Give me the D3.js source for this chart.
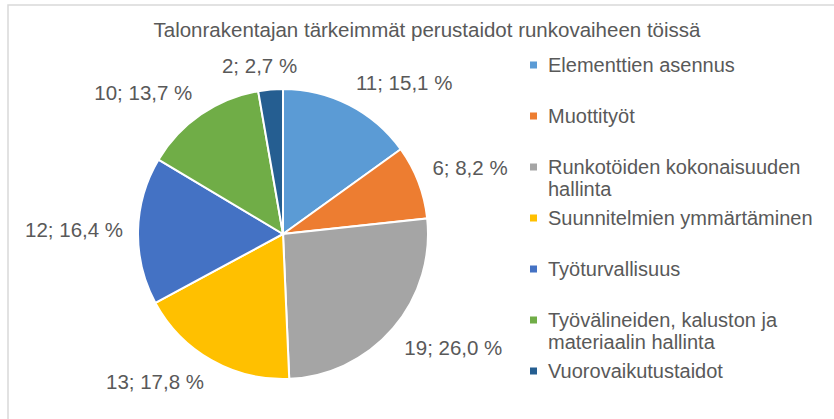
<!DOCTYPE html>
<html>
<head>
<meta charset="utf-8">
<script src="https://cdn.jsdelivr.net/npm/d3@7"></script>
<style>
  body { margin: 0; background: #fff; }
  text { font-family: "Liberation Sans", Arial, sans-serif; fill: #595959; }
</style>
</head>
<body>
<svg></svg>
<script>
var categories = ["Elementtien asennus", "Muottityöt", "Runkotöiden kokonaisuuden hallinta",
                  "Suunnitelmien ymmärtäminen", "Työturvallisuus",
                  "Työvälineiden, kaluston ja materiaalin hallinta", "Vuorovaikutustaidot"],
    legendLines = [["Elementtien asennus"], ["Muottityöt"], ["Runkotöiden kokonaisuuden", "hallinta"],
                   ["Suunnitelmien ymmärtäminen"], ["Työturvallisuus"],
                   ["Työvälineiden, kaluston ja", "materiaalin hallinta"], ["Vuorovaikutustaidot"]],
    values = [11, 6, 19, 13, 12, 10, 2],
    percents = ["15,1", "8,2", "26,0", "17,8", "16,4", "13,7", "2,7"],
    colors = ["#5B9BD5", "#ED7D31", "#A5A5A5", "#FFC000", "#4472C4", "#70AD47", "#255E91"];

var width = 834, height = 419,
    cx = 283, cy = 234, radius = 145, labelR = 160,
    svg = d3.select("svg").attr("width", width).attr("height", height),
    color = d3.scaleOrdinal().domain(categories).range(colors);

// chart frame
svg.append("rect")
    .attr("x", 8).attr("y", 5)
    .attr("width", 900).attr("height", 500)
    .attr("fill", "none")
    .attr("stroke", "#d9d9d9")
    .attr("stroke-width", 1.5);

svg.append("text")
    .attr("x", 427).attr("y", 37)
    .attr("text-anchor", "middle")
    .style("font-size", "20.5px")
    .text("Talonrakentajan tärkeimmät perustaidot runkovaiheen töissä");

var pie = d3.pie().sort(null).value(function(d) { return d.value; }),
    arc = d3.arc().innerRadius(0).outerRadius(radius),
    table = categories.map(function(c, i) { return {name: c, value: values[i], pct: percents[i]}; }),
    arcs = pie(table);

var g = svg.append("g").attr("transform", "translate(" + cx + "," + cy + ")");

g.selectAll("path")
    .data(arcs)
    .enter().append("path")
    .attr("d", arc)
    .attr("fill", function(d) { return color(d.data.name); })
    .attr("stroke", "#fff")
    .attr("stroke-width", 2);

// data labels, placed outside the slice end like Excel's best fit
var clamp = function(v) { return Math.max(-1, Math.min(1, v)); };
g.selectAll("text.lbl")
    .data(arcs)
    .enter().append("text")
    .attr("class", "lbl")
    .style("font-size", "20.5px")
    .text(function(d) { return d.data.value + "; " + d.data.pct + " %"; })
    .each(function(d) {
        var a = (d.startAngle + d.endAngle) / 2,
            px = Math.sin(a) * labelR,
            py = -Math.cos(a) * labelR,
            w = this.getComputedTextLength(),
            h = 18,
            fx = clamp(Math.sin(a) * 3),
            fy = clamp(Math.cos(a) * 3),
            left = px - w * (1 - fx) / 2,
            top = py - h * (1 + fy) / 2;
        d3.select(this).attr("x", left).attr("y", top + h * 0.9);
    });

// legend
var ly = d3.scalePoint().domain(categories).range([65, 371]);

var legend = svg.append("g")
    .selectAll("g")
    .data(categories)
    .enter().append("g")
    .attr("transform", function(d) { return "translate(530," + ly(d) + ")"; });

legend.append("rect")
    .attr("x", 0).attr("y", -3.5)
    .attr("width", 7).attr("height", 7)
    .attr("fill", function(d) { return color(d); });

legend.append("text")
    .style("font-size", "20px")
    .selectAll("tspan")
    .data(function(d, i) { return legendLines[i]; })
    .enter().append("tspan")
    .attr("x", 18)
    .attr("y", function(d, i) { return 7 + i * 22; })
    .text(function(d) { return d; });
</script>
</body>
</html>
